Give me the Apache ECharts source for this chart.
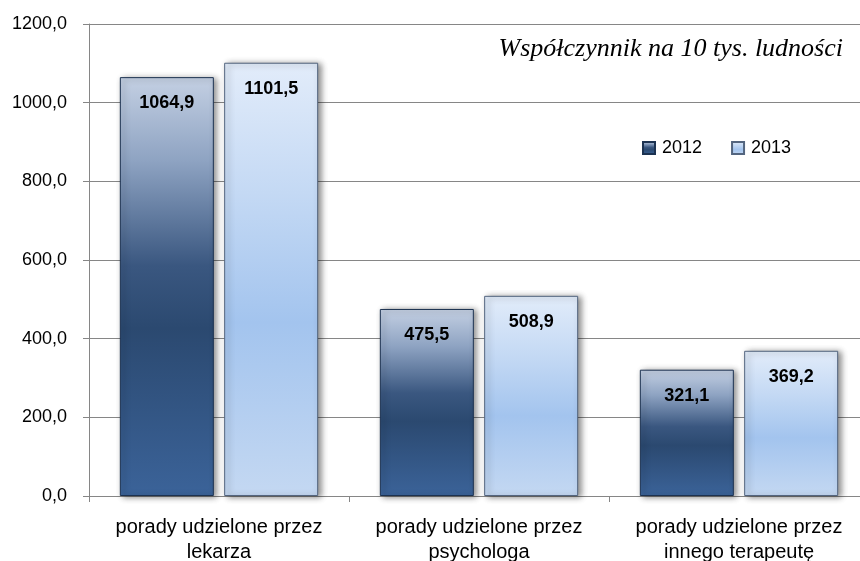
<!DOCTYPE html>
<html>
<head>
<meta charset="utf-8">
<script src="https://cdn.jsdelivr.net/npm/echarts@6/dist/echarts.min.js"></script>
<style>
  html, body { margin: 0; padding: 0; background: #fff; }
  #chart { width: 860px; height: 561px; }
</style>
</head>
<body>
<div id="chart"></div>
<script>
// data
var categories = [
  'porady udzielone przez\nlekarza',
  'porady udzielone przez\npsychologa',
  'porady udzielone przez\ninnego terapeutę'
];
var seriesNames = ['2012', '2013'];
var values2012 = [1064.9, 475.5, 321.1];
var values2013 = [1101.5, 508.9, 369.2];
var yTicks = { min: 0, max: 1200, step: 200 };
var chartTitle = 'Współczynnik na 10 tys. ludności';

function fmt(v) {
  return v.toFixed(1).replace('.', ',');
}

function grad(stops) {
  return new echarts.graphic.LinearGradient(0, 0, 0, 1, stops);
}

var fill2012 = grad([
  { offset: 0, color: '#c4d0e3' },
  { offset: 0.2, color: '#8ea3c2' },
  { offset: 0.45, color: '#3a5780' },
  { offset: 0.6, color: '#2b4970' },
  { offset: 1, color: '#3b6399' }
]);
var fill2013 = grad([
  { offset: 0, color: '#e2ecfa' },
  { offset: 0.3, color: '#c4d9f4' },
  { offset: 0.6, color: '#a3c4ee' },
  { offset: 1, color: '#c4d8f2' }
]);

var labelStyle = {
  show: true,
  position: 'insideTop',
  distance: 17,
  color: '#000',
  fontFamily: 'Liberation Sans',
  fontWeight: 'bold',
  fontSize: 18,
  formatter: function (p) { return fmt(p.value); }
};

function barStyle(fill, border) {
  return {
    color: fill,
    borderColor: border,
    borderWidth: 1,
    shadowColor: 'rgba(0,0,0,0.45)',
    shadowBlur: 6,
    shadowOffsetX: 3,
    shadowOffsetY: 1
  };
}

var chart = echarts.init(document.getElementById('chart'));

var option = {
  animation: false,
  backgroundColor: '#fff',
  textStyle: { fontFamily: 'Liberation Sans' },
  title: {
    text: chartTitle,
    right: 12,
    top: 31,
    textStyle: {
      fontFamily: 'Liberation Serif',
      fontStyle: 'italic',
      fontWeight: 'normal',
      fontSize: 26,
      color: '#000'
    }
  },
  legend: {
    data: seriesNames,
    left: 637,
    top: 134,
    itemWidth: 12,
    itemHeight: 12,
    itemGap: 29,
    icon: 'rect',
    textStyle: {
      fontSize: 18,
      color: '#000',
      padding: [0, 0, 0, 2]
    }
  },
  grid: {
    left: 89,
    right: -9,
    top: 24,
    bottom: 65,
    containLabel: false,
    outerBoundsMode: 'none'
  },
  xAxis: {
    type: 'category',
    data: categories,
    axisLine: { lineStyle: { color: '#868686', width: 1 } },
    axisTick: { show: true, length: 6, lineStyle: { color: '#868686' } },
    axisLabel: {
      color: '#000',
      fontSize: 20,
      lineHeight: 25,
      margin: 19,
      interval: 0
    }
  },
  yAxis: {
    type: 'value',
    min: yTicks.min,
    max: yTicks.max,
    interval: yTicks.step,
    axisLine: { show: true, lineStyle: { color: '#868686', width: 1 } },
    axisTick: { show: true, length: 6, lineStyle: { color: '#868686' } },
    splitLine: { lineStyle: { color: '#868686', width: 1 } },
    axisLabel: {
      color: '#000',
      fontSize: 18,
      margin: 22,
      formatter: function (v) { return fmt(v); }
    }
  },
  series: [
    {
      name: seriesNames[0],
      type: 'bar',
      data: values2012,
      barWidth: 94,
      barGap: '11%',
      itemStyle: barStyle(fill2012, '#1c3251'),
      label: labelStyle
    },
    {
      name: seriesNames[1],
      type: 'bar',
      data: values2013,
      barWidth: 94,
      barGap: '11%',
      itemStyle: barStyle(fill2013, '#53657f'),
      label: labelStyle
    }
  ]
};

chart.setOption(option);
</script>
</body>
</html>
